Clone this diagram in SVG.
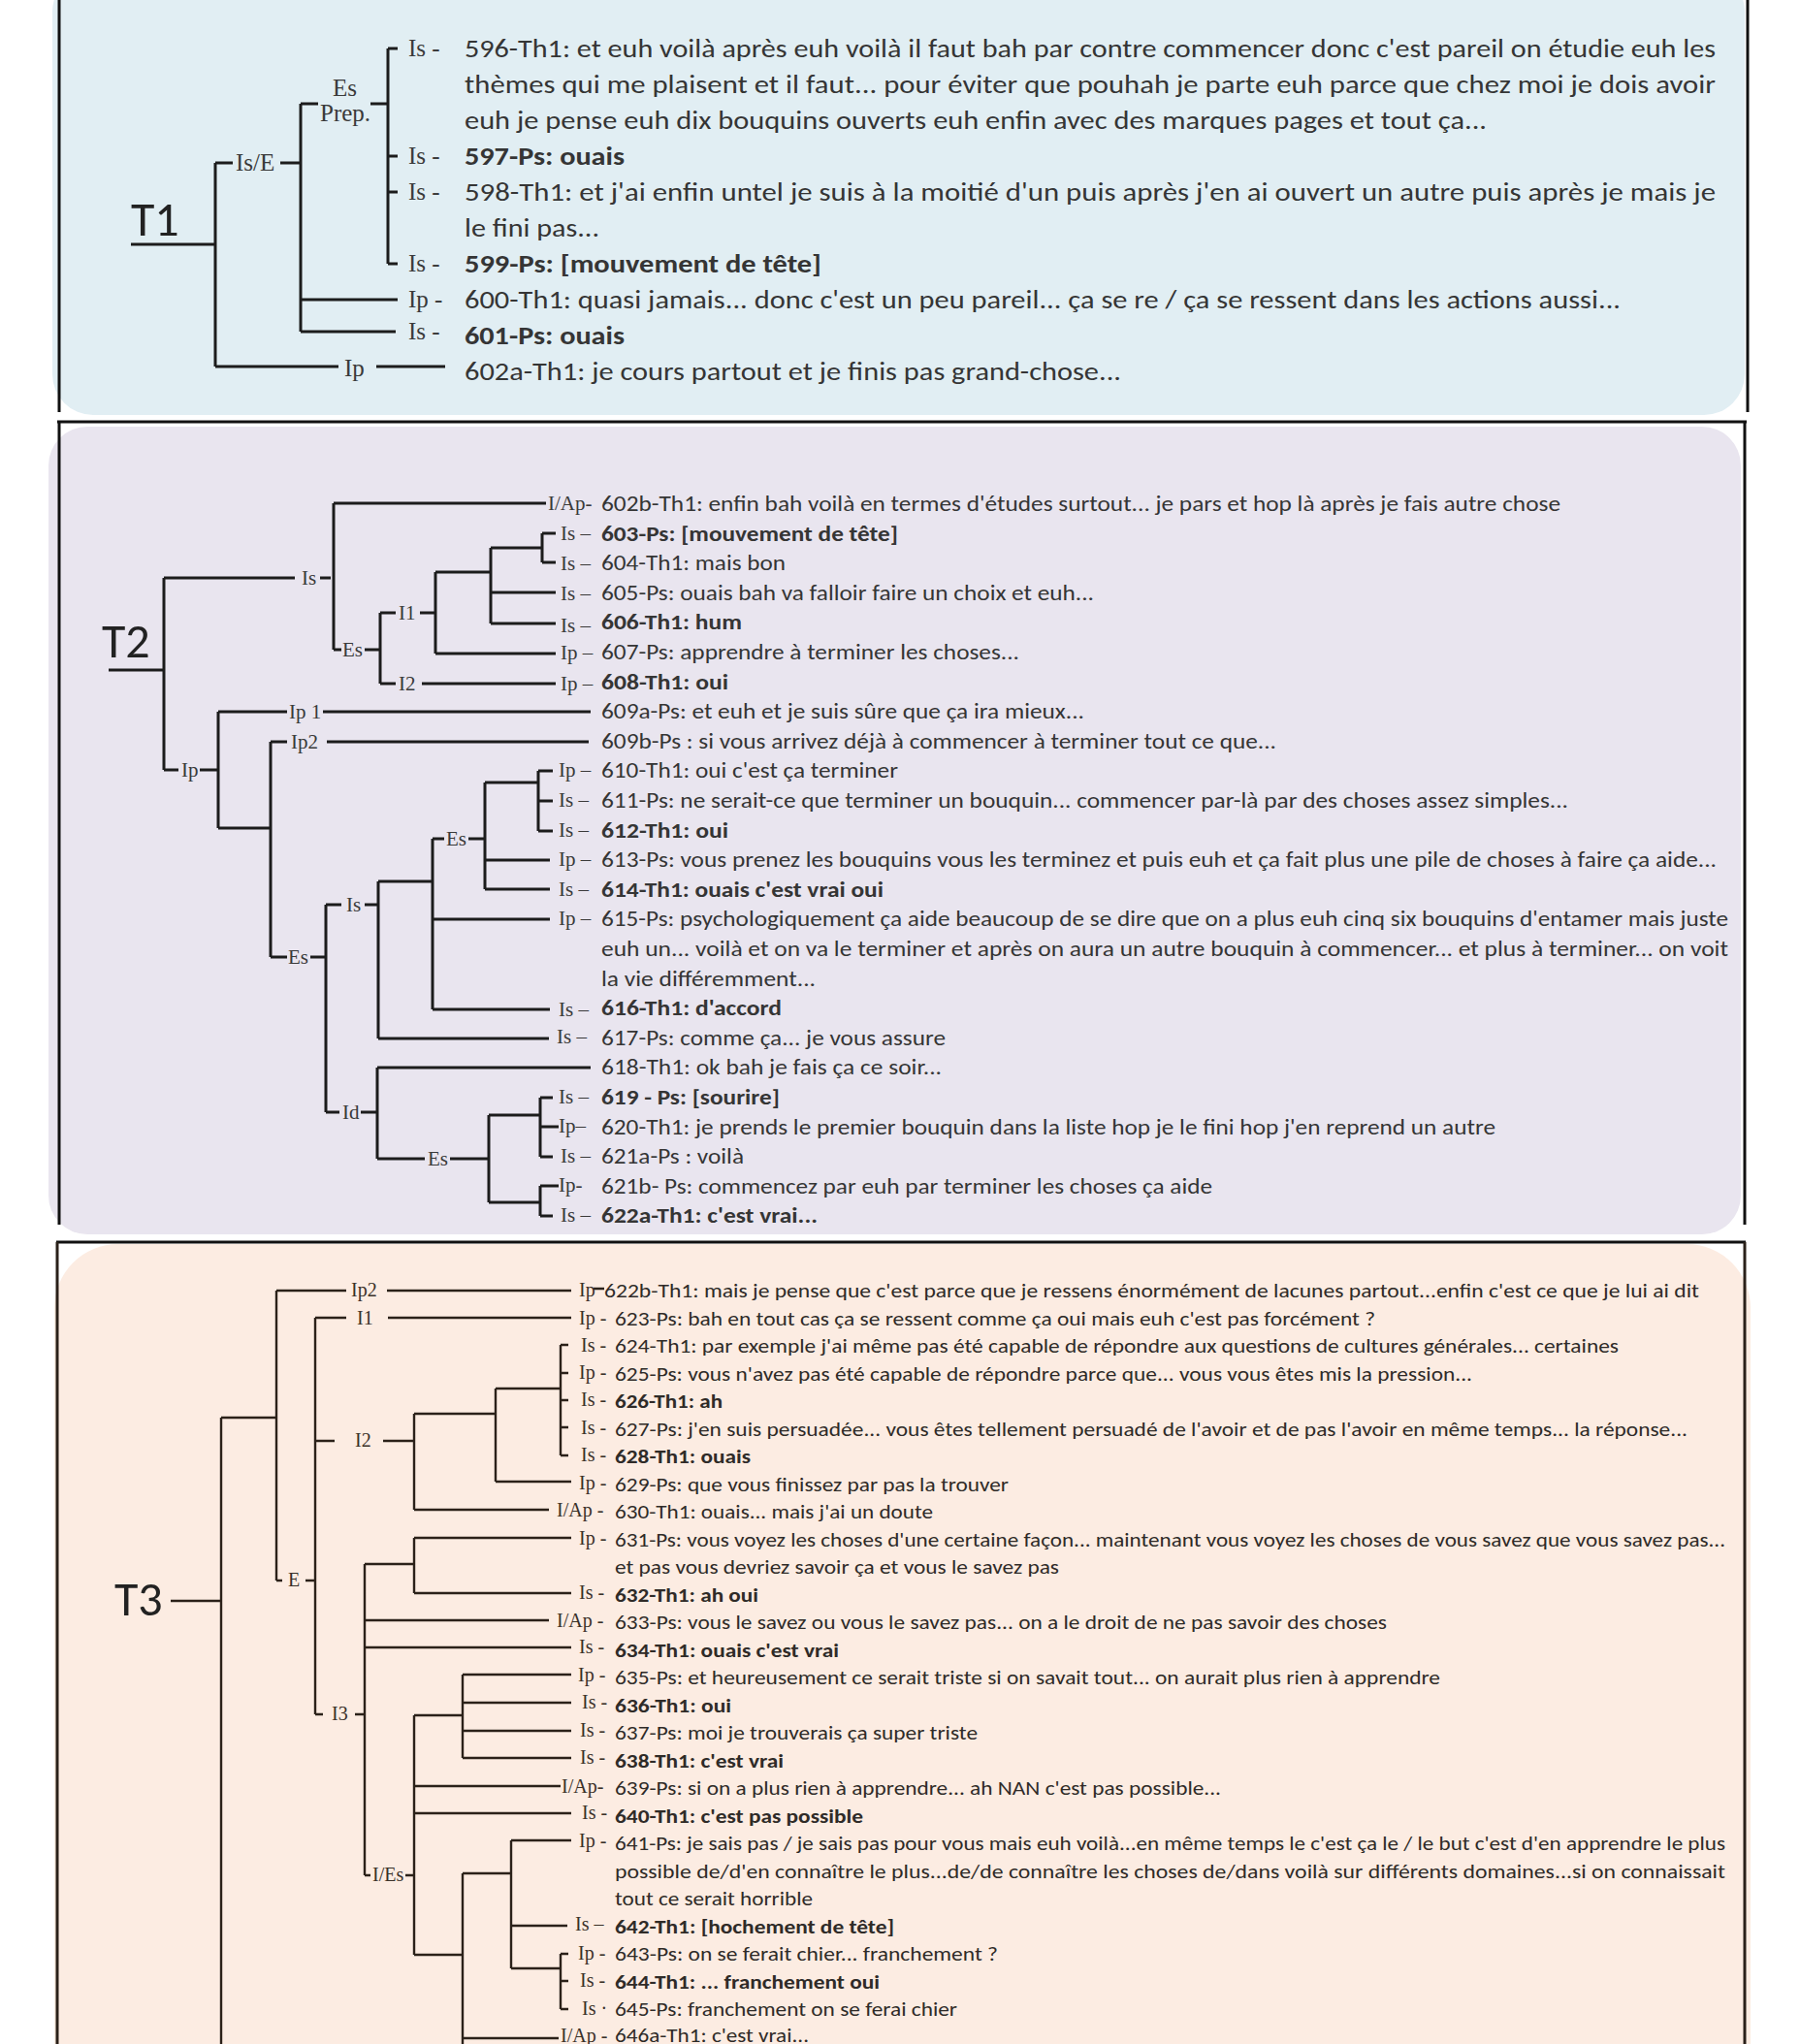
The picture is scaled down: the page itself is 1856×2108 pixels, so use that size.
<svg xmlns="http://www.w3.org/2000/svg" width="1856" height="2108" viewBox="0 0 1856 2108">
<style>
.tx{font-family:Carlito,"Liberation Sans",Arial,sans-serif;fill:#353535}
.t1{font-size:27px}.t2{font-size:22px}.t3{font-size:21px;fill:#2f2b28}
.b{font-weight:bold}
.lb{font-family:"Liberation Serif","Times New Roman",serif;fill:#3a3a3a}
.l1{font-size:25px}.l2{font-size:21px}.l3{font-size:20px;fill:#3a3129}
.big{font-family:Carlito,"Liberation Sans",Arial,sans-serif;font-size:50px;fill:#222}
.c1{stroke:#1c1c1c;stroke-width:3;fill:none}
.c3{stroke:#2b2119;stroke-width:2.4;fill:none}
.fr{stroke:#111;stroke-width:3;fill:none}
</style>
<rect width="1856" height="2108" fill="#fff"/>
<g id="panels">
<rect x="54" y="-30" width="1745" height="458" rx="42" fill="#e1eef3"/>
<rect x="50" y="440" width="1745" height="833" rx="40" fill="#e9e5ef"/>
<rect x="56" y="1283" width="1749" height="900" rx="66" fill="#fcece2"/>
<path class="fr" d="M61 0V425M1802 0V425M59 435H1801M61 435V1263M1799 435V1263"/>
<path class="fr" d="M58 1281H1800" stroke-width="2.5"/>
<path d="M59 1281V2108M1799 1281V2108" stroke="#2a2019" stroke-width="3" fill="none"/>
</g>

<g id="connectors">
<path class="c1" d="M135 252H222M222 168V378M222 168H240M289 168H310M310 107V342M310 107H328M382 107H400M400 50V272M400 50H410M400 161H410M400 198H410M400 272H410M310 309H410M310 342H408M222 378H349M388 378H459"/>
<path class="c1" d="M112 691H169M169 596V794M169 596H304M330 596H341M344 519V670M344 519H563M344 670H352M376 670H392M392 632V705M392 632H408M433 632H449M449 590V674M392 705H408M435 705H573M449 590H506M506 565V643M506 565H559M559 550V580M559 550H573M559 580H573M506 611H573M506 643H573M449 674H573"/>
<path class="c1" d="M169 794H184M206 794H225M225 734V854M225 734H296M333 734H609M225 854H279M279 765V987M279 765H296M337 765H607M279 987H296M320 987H336M336 933V1147M336 933H352M376 933H390M390 909V1071M390 909H446M446 865V1041M446 865H458M483 865H500M500 807V917M500 807H555M555 795V857M555 795H570M555 826H570M555 857H570M500 887H567M500 917H567M446 948H567M446 1041H567M390 1071H566M336 1147H350M372 1147H389M389 1101V1195M389 1101H609M389 1195H438M464 1195H504M504 1150V1240M504 1150H557M557 1132V1193M557 1132H570M557 1162H576M557 1193H570M504 1240H557M557 1223V1254M557 1223H576M557 1254H570"/>
<path class="c3" d="M176 1651H228M228 1462V2108M228 1462H285M285 1331V1630M285 1331H357M399 1331H589M612 1329H623M285 1630H291M315 1630H325M325 1359V1768M325 1359H357M400 1359H589M325 1486H345M395 1486H427M427 1458V1557M427 1458H511M511 1432V1528M511 1432H577M578 1387V1501M578 1387H586M578 1416H586M578 1444H586M578 1472H586M578 1501H586M511 1528H589M427 1557H566"/>
<path class="c3" d="M325 1768H333M366 1768H376M376 1613V1934M376 1613H427M427 1586V1643M427 1586H589M427 1643H589M376 1671H566M376 1699H589M376 1934H382M418 1934H427M427 1769V2016M427 1769H477M477 1727V1813M477 1727H589M477 1756H589M477 1785H589M477 1813H589M427 1842H578M427 1870H589M427 2016H477M477 1932V2108M477 1932H527M527 1898V2030M527 1898H589M527 1986H585M527 2030H577M578 2015V2072M578 2015H586M578 2043H586M578 2072H586M477 2102H576"/>
</g>

<g id="T1">
<text class="big" x="135" y="243">T1</text>
<g id="n-T1-IsE"><text class="lb l1" x="243" y="176">Is/E</text></g>
<g id="n-T1-EsPrep"><text class="lb l1" x="343" y="99">Es</text><text class="lb l1" x="330" y="125">Prep.</text></g>
<g id="n-T1-Ip"><text class="lb l1" x="355" y="388">Ip</text></g>
<g id="r596"><text class="lb l1" x="421" y="58">Is -</text>
<text class="tx t1" x="479" y="59" textLength="1290" lengthAdjust="spacingAndGlyphs">596-Th1: et euh voilà après euh voilà il faut bah par contre commencer donc c'est pareil on étudie euh les</text>
<text class="tx t1" x="479" y="96" textLength="1290" lengthAdjust="spacingAndGlyphs">thèmes qui me plaisent et il faut... pour éviter que pouhah je parte euh parce que chez moi je dois avoir</text>
<text class="tx t1" x="479" y="133" textLength="1054" lengthAdjust="spacingAndGlyphs">euh je pense euh dix bouquins ouverts euh enfin avec des marques pages et tout ça...</text></g>
<g id="r597"><text class="lb l1" x="421" y="169">Is -</text><text class="tx t1 b" x="479" y="170" textLength="165" lengthAdjust="spacingAndGlyphs">597-Ps: ouais</text></g>
<g id="r598"><text class="lb l1" x="421" y="206">Is -</text>
<text class="tx t1" x="479" y="207" textLength="1290" lengthAdjust="spacingAndGlyphs">598-Th1: et j'ai enfin untel je suis à la moitié d'un puis après j'en ai ouvert un autre puis après je mais je</text>
<text class="tx t1" x="479" y="244" textLength="139" lengthAdjust="spacingAndGlyphs">le fini pas...</text></g>
<g id="r599"><text class="lb l1" x="421" y="280">Is -</text><text class="tx t1 b" x="479" y="281" textLength="368" lengthAdjust="spacingAndGlyphs">599-Ps: [mouvement de tête]</text></g>
<g id="r600"><text class="lb l1" x="421" y="317">Ip -</text><text class="tx t1" x="479" y="318" textLength="1192" lengthAdjust="spacingAndGlyphs">600-Th1: quasi jamais... donc c'est un peu pareil... ça se re / ça se ressent dans les actions aussi...</text></g>
<g id="r601"><text class="lb l1" x="421" y="350">Is -</text><text class="tx t1 b" x="479" y="355" textLength="165" lengthAdjust="spacingAndGlyphs">601-Ps: ouais</text></g>
<g id="r602a"><text class="tx t1" x="479" y="392" textLength="677" lengthAdjust="spacingAndGlyphs">602a-Th1: je cours partout et je finis pas grand-chose...</text></g>
</g>

<g id="T2">
<text class="big" x="105" y="678">T2</text>
<g id="n-T2-Is"><text class="lb l2" x="311" y="603">Is</text></g>
<g id="n-T2-Es1"><text class="lb l2" x="353" y="677">Es</text></g>
<g id="n-T2-I1"><text class="lb l2" x="411" y="639">I1</text></g>
<g id="n-T2-I2"><text class="lb l2" x="411" y="712">I2</text></g>
<g id="n-T2-Ip"><text class="lb l2" x="187" y="801">Ip</text></g>
<g id="n-T2-Ip1"><text class="lb l2" x="298" y="741">Ip 1</text></g>
<g id="n-T2-Ip2"><text class="lb l2" x="300" y="772">Ip2</text></g>
<g id="n-T2-Es2"><text class="lb l2" x="297" y="994">Es</text></g>
<g id="n-T2-Is2"><text class="lb l2" x="357" y="940">Is</text></g>
<g id="n-T2-Es3"><text class="lb l2" x="460" y="872">Es</text></g>
<g id="n-T2-Id"><text class="lb l2" x="353" y="1154">Id</text></g>
<g id="n-T2-Es4"><text class="lb l2" x="441" y="1202">Es</text></g>
<g id="r602b"><text class="lb l2" x="565" y="526">I/Ap-</text><text class="tx t2" x="620" y="527" textLength="989" lengthAdjust="spacingAndGlyphs">602b-Th1: enfin bah voilà en termes d'études surtout... je pars et hop là après je fais autre chose</text></g>
<g id="r603"><text class="lb l2" x="578" y="557">Is –</text><text class="tx t2 b" x="620" y="558" textLength="306" lengthAdjust="spacingAndGlyphs">603-Ps: [mouvement de tête]</text></g>
<g id="r604"><text class="lb l2" x="578" y="588">Is –</text><text class="tx t2" x="620" y="588" textLength="190" lengthAdjust="spacingAndGlyphs">604-Th1: mais bon</text></g>
<g id="r605"><text class="lb l2" x="578" y="619">Is –</text><text class="tx t2" x="620" y="619" textLength="508" lengthAdjust="spacingAndGlyphs">605-Ps: ouais bah va falloir faire un choix et euh...</text></g>
<g id="r606"><text class="lb l2" x="578" y="652">Is –</text><text class="tx t2 b" x="620" y="649" textLength="145" lengthAdjust="spacingAndGlyphs">606-Th1: hum</text></g>
<g id="r607"><text class="lb l2" x="578" y="680">Ip –</text><text class="tx t2" x="620" y="680" textLength="431" lengthAdjust="spacingAndGlyphs">607-Ps: apprendre à terminer les choses...</text></g>
<g id="r608"><text class="lb l2" x="578" y="712">Ip –</text><text class="tx t2 b" x="620" y="711" textLength="131" lengthAdjust="spacingAndGlyphs">608-Th1: oui</text></g>
<g id="r609a"><text class="tx t2" x="620" y="741" textLength="498" lengthAdjust="spacingAndGlyphs">609a-Ps: et euh et je suis sûre que ça ira mieux...</text></g>
<g id="r609b"><text class="tx t2" x="620" y="772" textLength="696" lengthAdjust="spacingAndGlyphs">609b-Ps : si vous arrivez déjà à commencer à terminer tout ce que...</text></g>
<g id="r610"><text class="lb l2" x="576" y="801">Ip –</text><text class="tx t2" x="620" y="802" textLength="306" lengthAdjust="spacingAndGlyphs">610-Th1: oui c'est ça terminer</text></g>
<g id="r611"><text class="lb l2" x="576" y="832">Is –</text><text class="tx t2" x="620" y="833" textLength="997" lengthAdjust="spacingAndGlyphs">611-Ps: ne serait-ce que terminer un bouquin... commencer par-là par des choses assez simples...</text></g>
<g id="r612"><text class="lb l2" x="576" y="863">Is –</text><text class="tx t2 b" x="620" y="864" textLength="131" lengthAdjust="spacingAndGlyphs">612-Th1: oui</text></g>
<g id="r613"><text class="lb l2" x="576" y="893">Ip –</text><text class="tx t2" x="620" y="894" textLength="1150" lengthAdjust="spacingAndGlyphs">613-Ps: vous prenez les bouquins vous les terminez et puis euh et ça fait plus une pile de choses à faire ça aide...</text></g>
<g id="r614"><text class="lb l2" x="576" y="924">Is –</text><text class="tx t2 b" x="620" y="925" textLength="291" lengthAdjust="spacingAndGlyphs">614-Th1: ouais c'est vrai oui</text></g>
<g id="r615"><text class="lb l2" x="576" y="954">Ip –</text>
<text class="tx t2" x="620" y="955" textLength="1162" lengthAdjust="spacingAndGlyphs">615-Ps: psychologiquement ça aide beaucoup de se dire que on a plus euh cinq six bouquins d'entamer mais juste</text>
<text class="tx t2" x="620" y="986" textLength="1162" lengthAdjust="spacingAndGlyphs">euh un... voilà et on va le terminer et après on aura un autre bouquin à commencer... et plus à terminer... on voit</text>
<text class="tx t2" x="620" y="1017" textLength="221" lengthAdjust="spacingAndGlyphs">la vie différemment...</text></g>
<g id="r616"><text class="lb l2" x="576" y="1048">Is –</text><text class="tx t2 b" x="620" y="1047" textLength="186" lengthAdjust="spacingAndGlyphs">616-Th1: d'accord</text></g>
<g id="r617"><text class="lb l2" x="574" y="1076">Is –</text><text class="tx t2" x="620" y="1078" textLength="355" lengthAdjust="spacingAndGlyphs">617-Ps: comme ça... je vous assure</text></g>
<g id="r618"><text class="tx t2" x="620" y="1108" textLength="351" lengthAdjust="spacingAndGlyphs">618-Th1: ok bah je fais ça ce soir...</text></g>
<g id="r619"><text class="lb l2" x="576" y="1138">Is –</text><text class="tx t2 b" x="620" y="1139" textLength="184" lengthAdjust="spacingAndGlyphs">619 - Ps: [sourire]</text></g>
<g id="r620"><text class="lb l2" x="576" y="1168">Ip–</text><text class="tx t2" x="620" y="1170" textLength="922" lengthAdjust="spacingAndGlyphs">620-Th1: je prends le premier bouquin dans la liste hop je le fini hop j'en reprend un autre</text></g>
<g id="r621a"><text class="lb l2" x="578" y="1199">Is –</text><text class="tx t2" x="620" y="1200" textLength="147" lengthAdjust="spacingAndGlyphs">621a-Ps : voilà</text></g>
<g id="r621b"><text class="lb l2" x="576" y="1229">Ip-</text><text class="tx t2" x="620" y="1231" textLength="630" lengthAdjust="spacingAndGlyphs">621b- Ps: commencez par euh par terminer les choses ça aide</text></g>
<g id="r622a"><text class="lb l2" x="578" y="1260">Is –</text><text class="tx t2 b" x="620" y="1261" textLength="223" lengthAdjust="spacingAndGlyphs">622a-Th1: c'est vrai...</text></g>
</g>

<g id="T3">
<text class="big" x="118" y="1666">T3</text>
<g id="n-T3-Ip2"><text class="lb l3" x="362" y="1337">Ip2</text></g>
<g id="n-T3-I1"><text class="lb l3" x="368" y="1366">I1</text></g>
<g id="n-T3-I2"><text class="lb l3" x="366" y="1492">I2</text></g>
<g id="n-T3-E"><text class="lb l3" x="297" y="1636">E</text></g>
<g id="n-T3-I3"><text class="lb l3" x="342" y="1774">I3</text></g>
<g id="n-T3-IEs"><text class="lb l3" x="384" y="1940">I/Es</text></g>
<g id="r622b"><text class="lb l3" x="597" y="1337">Ip</text><text class="tx t3" x="623" y="1338" textLength="1129" lengthAdjust="spacingAndGlyphs">622b-Th1: mais je pense que c'est parce que je ressens énormément de lacunes partout...enfin c'est ce que je lui ai dit</text></g>
<g id="r623"><text class="lb l3" x="597" y="1366">Ip -</text><text class="tx t3" x="634" y="1367" textLength="784" lengthAdjust="spacingAndGlyphs">623-Ps: bah en tout cas ça se ressent comme ça oui mais euh c'est pas forcément ?</text></g>
<g id="r624"><text class="lb l3" x="599" y="1394">Is -</text><text class="tx t3" x="634" y="1395" textLength="1035" lengthAdjust="spacingAndGlyphs">624-Th1: par exemple j'ai même pas été capable de répondre aux questions de cultures générales... certaines</text></g>
<g id="r625"><text class="lb l3" x="597" y="1422">Ip -</text><text class="tx t3" x="634" y="1424" textLength="884" lengthAdjust="spacingAndGlyphs">625-Ps: vous n'avez pas été capable de répondre parce que... vous vous êtes mis la pression...</text></g>
<g id="r626"><text class="lb l3" x="599" y="1450">Is -</text><text class="tx t3 b" x="634" y="1452" textLength="111" lengthAdjust="spacingAndGlyphs">626-Th1: ah</text></g>
<g id="r627"><text class="lb l3" x="599" y="1479">Is -</text><text class="tx t3" x="634" y="1481" textLength="1106" lengthAdjust="spacingAndGlyphs">627-Ps: j'en suis persuadée... vous êtes tellement persuadé de l'avoir et de pas l'avoir en même temps... la réponse...</text></g>
<g id="r628"><text class="lb l3" x="599" y="1507">Is -</text><text class="tx t3 b" x="634" y="1509" textLength="140" lengthAdjust="spacingAndGlyphs">628-Th1: ouais</text></g>
<g id="r629"><text class="lb l3" x="597" y="1536">Ip -</text><text class="tx t3" x="634" y="1538" textLength="406" lengthAdjust="spacingAndGlyphs">629-Ps: que vous finissez par pas la trouver</text></g>
<g id="r630"><text class="lb l3" x="574" y="1564">I/Ap -</text><text class="tx t3" x="634" y="1566" textLength="328" lengthAdjust="spacingAndGlyphs">630-Th1: ouais... mais j'ai un doute</text></g>
<g id="r631"><text class="lb l3" x="597" y="1593">Ip -</text>
<text class="tx t3" x="634" y="1595" textLength="1145" lengthAdjust="spacingAndGlyphs">631-Ps: vous voyez les choses d'une certaine façon... maintenant vous voyez les choses de vous savez que vous savez pas...</text>
<text class="tx t3" x="634" y="1623" textLength="458" lengthAdjust="spacingAndGlyphs">et pas vous devriez savoir ça et vous le savez pas</text></g>
<g id="r632"><text class="lb l3" x="597" y="1649">Is -</text><text class="tx t3 b" x="634" y="1652" textLength="148" lengthAdjust="spacingAndGlyphs">632-Th1: ah oui</text></g>
<g id="r633"><text class="lb l3" x="574" y="1678">I/Ap -</text><text class="tx t3" x="634" y="1680" textLength="796" lengthAdjust="spacingAndGlyphs">633-Ps: vous le savez ou vous le savez pas... on a le droit de ne pas savoir des choses</text></g>
<g id="r634"><text class="lb l3" x="597" y="1705">Is -</text><text class="tx t3 b" x="634" y="1709" textLength="231" lengthAdjust="spacingAndGlyphs">634-Th1: ouais c'est vrai</text></g>
<g id="r635"><text class="lb l3" x="596" y="1734">Ip -</text><text class="tx t3" x="634" y="1737" textLength="851" lengthAdjust="spacingAndGlyphs">635-Ps: et heureusement ce serait triste si on savait tout... on aurait plus rien à apprendre</text></g>
<g id="r636"><text class="lb l3" x="600" y="1762">Is -</text><text class="tx t3 b" x="634" y="1766" textLength="120" lengthAdjust="spacingAndGlyphs">636-Th1: oui</text></g>
<g id="r637"><text class="lb l3" x="598" y="1791">Is -</text><text class="tx t3" x="634" y="1794" textLength="374" lengthAdjust="spacingAndGlyphs">637-Ps: moi je trouverais ça super triste</text></g>
<g id="r638"><text class="lb l3" x="598" y="1819">Is -</text><text class="tx t3 b" x="634" y="1823" textLength="174" lengthAdjust="spacingAndGlyphs">638-Th1: c'est vrai</text></g>
<g id="r639"><text class="lb l3" x="579" y="1849">I/Ap-</text><text class="tx t3" x="634" y="1851" textLength="625" lengthAdjust="spacingAndGlyphs">639-Ps: si on a plus rien à apprendre... ah NAN c'est pas possible...</text></g>
<g id="r640"><text class="lb l3" x="600" y="1876">Is -</text><text class="tx t3 b" x="634" y="1880" textLength="256" lengthAdjust="spacingAndGlyphs">640-Th1: c'est pas possible</text></g>
<g id="r641"><text class="lb l3" x="597" y="1905">Ip -</text>
<text class="tx t3" x="634" y="1908" textLength="1145" lengthAdjust="spacingAndGlyphs">641-Ps: je sais pas / je sais pas pour vous mais euh voilà...en même temps le c'est ça le / le but c'est d'en apprendre le plus</text>
<text class="tx t3" x="634" y="1937" textLength="1145" lengthAdjust="spacingAndGlyphs">possible de/d'en connaître le plus...de/de connaître les choses de/dans voilà sur différents domaines...si on connaissait</text>
<text class="tx t3" x="634" y="1965" textLength="204" lengthAdjust="spacingAndGlyphs">tout ce serait horrible</text></g>
<g id="r642"><text class="lb l3" x="593" y="1991">Is –</text><text class="tx t3 b" x="634" y="1994" textLength="288" lengthAdjust="spacingAndGlyphs">642-Th1: [hochement de tête]</text></g>
<g id="r643"><text class="lb l3" x="596" y="2021">Ip -</text><text class="tx t3" x="634" y="2022" textLength="395" lengthAdjust="spacingAndGlyphs">643-Ps: on se ferait chier... franchement ?</text></g>
<g id="r644"><text class="lb l3" x="598" y="2049">Is -</text><text class="tx t3 b" x="634" y="2051" textLength="273" lengthAdjust="spacingAndGlyphs">644-Th1: ... franchement oui</text></g>
<g id="r645"><text class="lb l3" x="600" y="2078">Is ·</text><text class="tx t3" x="634" y="2079" textLength="353" lengthAdjust="spacingAndGlyphs">645-Ps: franchement on se ferai chier</text></g>
<g id="r646a"><text class="lb l3" x="578" y="2106">I/Ap -</text><text class="tx t3" x="634" y="2106" textLength="200" lengthAdjust="spacingAndGlyphs">646a-Th1: c'est vrai...</text></g>
</g>
</svg>
